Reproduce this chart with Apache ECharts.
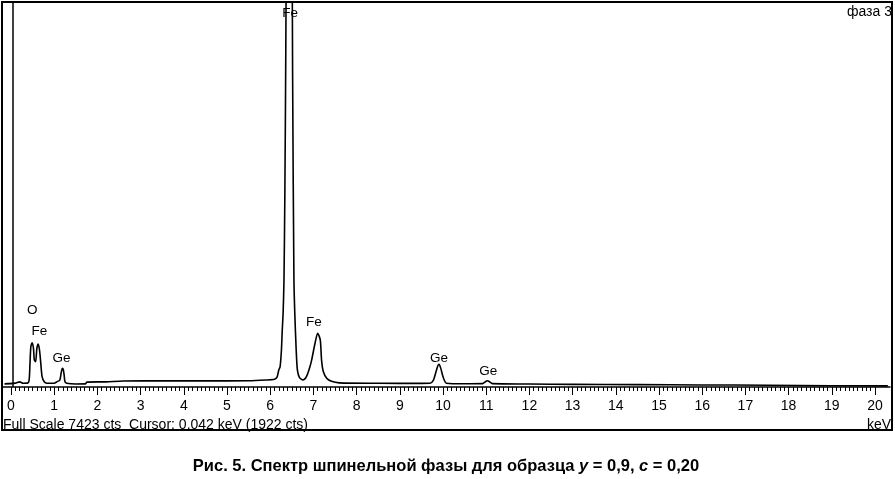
<!DOCTYPE html>
<html>
<head>
<meta charset="utf-8">
<script src="https://cdn.jsdelivr.net/npm/echarts@6/dist/echarts.min.js"></script>
<style>
  html, body { margin: 0; padding: 0; background: #fff; }
  #main { width: 895px; height: 479px; }
</style>
</head>
<body>
<div id="main"></div>
<script>
// spectrum (keV, counts)
const energyKeV = [
  -0.15, 0.10, 0.20, 0.28, 0.38, 0.42, 0.44, 0.46, 0.49, 0.52, 0.54, 0.57, 0.60, 0.63, 0.66, 0.69, 0.72, 0.77, 0.83,
  1.00, 1.06, 1.13, 1.16, 1.19, 1.21, 1.23, 1.25, 1.29, 1.50, 1.72, 1.76, 2.20, 2.60, 3.50, 4.50, 5.50, 5.90, 6.10,
  6.16, 6.20, 6.23, 6.26, 6.28, 6.30, 6.32, 6.34, 6.36, 6.38, 6.40, 6.42, 6.44, 6.46, 6.48, 6.50, 6.52, 6.55, 6.57,
  6.60, 6.63, 6.68, 6.76, 6.84, 6.92, 6.96, 7.04, 7.10, 7.16, 7.19, 7.23, 7.31, 7.42, 7.60, 8.50, 9.50, 9.70, 9.78,
  9.84, 9.88, 9.91, 9.95, 9.99, 10.03, 10.08, 10.50, 10.92, 10.97, 11.03, 11.09, 11.14, 12.0, 13.0, 14.5, 16.0,
  17.5, 19.0, 20.3
];
const counts = [
  60, 75, 100, 72, 75, 135, 458, 780, 856, 750, 522, 490, 750, 830, 715, 458, 200, 100, 72,
  72, 100, 135, 265, 360, 340, 232, 100, 72, 58, 60, 95, 100, 116, 118, 118, 120, 135, 150,
  190, 330, 390, 700, 1100, 1430, 2070, 3700, 6200, 9500, 13500, 17000, 18600, 17600, 14500, 10500, 6000, 2100, 1430,
  770, 330, 180, 135, 200, 390, 520, 850, 1040, 910, 520, 300, 170, 110, 80, 72, 70, 72, 135,
  296, 406, 440, 360, 232, 135, 72, 62, 65, 95, 122, 95, 65, 58, 50, 45, 40,
  35, 25, 22
];

// peak labels
const peakNames = ['O', 'Fe', 'Ge', 'Fe', 'Fe', 'Ge', 'Ge'];
const peakLabelKeV = [0.49, 0.66, 1.17, 6.46, 7.01, 9.91, 11.05];
const peakLabelCts = [1475, 1069, 557, 7223, 1245, 554, 295];

const fullScale = 7423;
const cursorKeV = 0.042;
const cursorCts = 1922;
const axisMinKeV = 0;
const axisMaxKeV = 20;

const font = '"Liberation Sans", Arial, sans-serif';

var myChart = echarts.init(document.getElementById('main'));

let spectrum = energyKeV.map((e, i) => [e, counts[i]]);
let labelPts = peakNames.map((n, i) => ({ name: n, value: [peakLabelKeV[i], peakLabelCts[i]] }));

var option = {
  backgroundColor: '#fff',
  animation: false,
  grid: [
    { left: 3, right: 5, top: 3, height: 384 },
    { left: 11, width: 864, top: 3, height: 384 }
  ],
  xAxis: [
    {
      type: 'value',
      gridIndex: 0,
      min: -0.185,
      max: 20.35,
      axisLine: { show: true, lineStyle: { color: '#000', width: 1.5 } },
      axisTick: { show: false },
      axisLabel: { show: false },
      splitLine: { show: false }
    },
    {
      type: 'value',
      gridIndex: 1,
      min: axisMinKeV,
      max: axisMaxKeV,
      interval: 1,
      axisLine: { show: false },
      axisTick: { show: true, length: 8, lineStyle: { color: '#000', width: 1 } },
      minorTick: { show: true, splitNumber: 10, length: 4, lineStyle: { color: '#000', width: 1 } },
      axisLabel: { color: '#000', fontSize: 14, fontFamily: font, margin: 12 },
      splitLine: { show: false }
    }
  ],
  yAxis: [
    { type: 'value', gridIndex: 0, min: 0, max: fullScale, show: false },
    { type: 'value', gridIndex: 1, min: 0, max: fullScale, show: false }
  ],
  series: [
    {
      type: 'line',
      xAxisIndex: 0,
      yAxisIndex: 0,
      data: spectrum,
      showSymbol: false,
      smooth: 0.25,
      clip: true,
      lineStyle: { color: '#000', width: 1.6 },
      markLine: {
        symbol: 'none',
        silent: true,
        label: { show: false },
        lineStyle: { color: '#000', type: 'solid', width: 1.5 },
        data: [{ xAxis: cursorKeV }]
      }
    },
    {
      type: 'scatter',
      xAxisIndex: 0,
      yAxisIndex: 0,
      symbolSize: 0,
      data: labelPts,
      itemStyle: { opacity: 1 },
      label: {
        show: true,
        position: 'inside',
        formatter: '{b}',
        color: '#000',
        opacity: 1,
        fontSize: 13.5,
        fontFamily: font
      }
    }
  ],
  graphic: [
    {
      type: 'rect',
      shape: { x: 2, y: 2, width: 890, height: 428 },
      style: { fill: 'none', stroke: '#000', lineWidth: 2 }
    },
    {
      type: 'text', left: 3, top: 418,
      style: {
        text: 'Full Scale ' + fullScale + ' cts  Cursor: ' + cursorKeV.toFixed(3) + ' keV (' + cursorCts + ' cts)',
        fill: '#000', font: '14px ' + font
      }
    },
    {
      type: 'text', right: 4, top: 418,
      style: { text: 'keV', fill: '#000', font: '14px ' + font }
    },
    {
      type: 'text', right: 3, top: 5,
      style: { text: 'фаза 3', fill: '#000', font: '14px ' + font }
    },
    {
      type: 'text', x: 446, y: 466,
      style: {
        text: '{b|Рис. 5. Спектр шпинельной фазы для образца }{i|y}{b| = 0,9, }{i|c}{b| = 0,20}',
        align: 'center',
        verticalAlign: 'middle',
        rich: {
          b: { fontWeight: 'bold', fontSize: 16.5, fontFamily: font, fill: '#000' },
          i: { fontWeight: 'bold', fontStyle: 'italic', fontSize: 16.5, fontFamily: font, fill: '#000' }
        }
      }
    }
  ]
};

window.onresize = myChart.resize;
myChart.setOption(option);
</script>
</body>
</html>
